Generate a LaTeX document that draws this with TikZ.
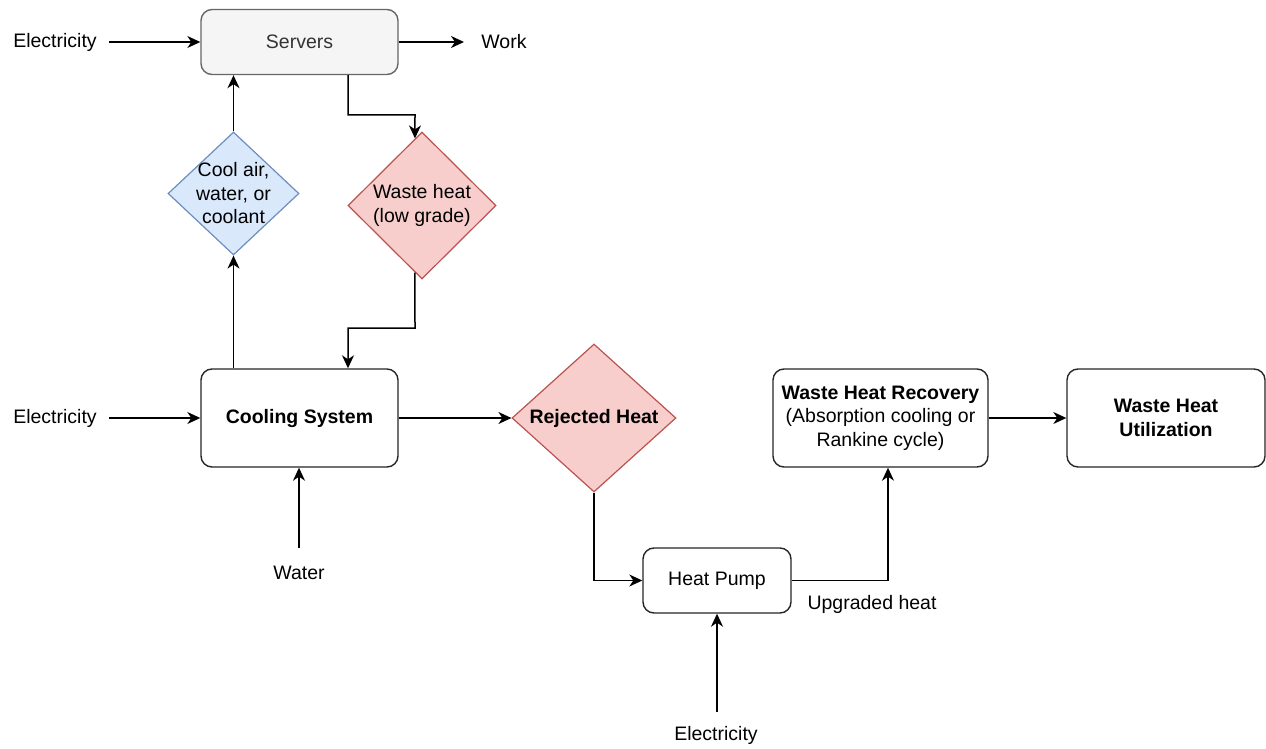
\documentclass[tikz,border=0pt]{standalone}
\usepackage{fontspec}
\setmainfont{Liberation Sans}
\usetikzlibrary{shapes.geometric,arrows.meta}
\definecolor{srvfill}{HTML}{F5F5F5}
\definecolor{srvline}{HTML}{666666}
\definecolor{srvtext}{HTML}{333333}
\definecolor{bluefill}{HTML}{DAE8FC}
\definecolor{blueline}{HTML}{6C8EBF}
\definecolor{redfill}{HTML}{F8CECC}
\definecolor{redline}{HTML}{B85450}
\begin{document}
\begin{tikzpicture}[x=1pt,y=-1pt,
  every node/.style={font=\fontsize{19.5}{23.5}\selectfont},
  box/.style={draw=black!85, line width=1.4pt, rounded corners=11pt, fill=white, align=center, inner sep=0pt},
  dia/.style={diamond, line width=1.2pt, inner sep=0pt},
  lbl/.style={inner xsep=12pt, inner ysep=2pt},
  arr/.style={line width=1.5pt, draw=black, -{Stealth[length=13pt,width=12pt,inset=4pt]}},
  ln/.style={line width=1.5pt, draw=black}]
\useasboundingbox (0,0) rectangle (1266,749);

% boxes
\node[box, draw=srvline, fill=srvfill, text=srvtext, minimum width=197pt, minimum height=65pt] (servers) at (299.5,42) {Servers};
\node[box, minimum width=197pt, minimum height=98pt, font=\fontsize{19.5}{23.5}\selectfont\bfseries] (cooling) at (299.5,418) {Cooling System};
\node[box, minimum width=148pt, minimum height=65pt] (hp) at (717,580.5) {Heat Pump};
\node[box, minimum width=215pt, minimum height=98pt] (whr) at (880.5,418) {\textbf{Waste Heat Recovery}\\(Absorption cooling or\\Rankine cycle)};
\node[box, minimum width=198pt, minimum height=98pt, font=\fontsize{19.5}{23.5}\selectfont\bfseries] (whu) at (1166,418) {Waste Heat\\Utilization};

% diamonds
\node[dia, draw=blueline, fill=bluefill, minimum width=131pt, minimum height=123pt] (cool) at (233.5,193.5) {};
\node[align=center] (cooltxt) at (233.5,193.5) {Cool air,\\water, or\\coolant};
\node[dia, draw=redline, fill=redfill, minimum width=148pt, minimum height=147pt] (waste) at (422,205.5) {};
\node[align=center] (wastetxt) at (422,205.5) {Waste heat\\(low grade)};
\node[dia, draw=redline, fill=redfill, minimum width=164pt, minimum height=148pt] (rej) at (594,418) {};
\node[font=\fontsize{19.5}{23.5}\selectfont\bfseries] (rejtxt) at (594,418) {Rejected Heat};

% labels
\node[lbl] (e1) at (55,42) {Electricity};
\node[lbl] (e2) at (55,418) {Electricity};
\node[lbl] (e3) at (716,735) {Electricity};
\node[lbl] (work) at (504,42) {Work};
\node[lbl] (water) at (299,573) {Water};
\node[lbl] (upg) at (872,604) {Upgraded heat};

% coordinates
\coordinate (c1) at (348,115);
\coordinate (c2) at (415,115);
\coordinate (c3) at (415,328);
\coordinate (c4) at (348,328);
\coordinate (c5) at (888,0);
\coordinate (wt) at (299,548);
\coordinate (et) at (717,712);
\coordinate (wk) at (464,42);

% connectors
\draw[arr] (e1.east |- servers.west) -- (servers.west);
\draw[arr] (servers.east) -- (wk);
\draw[arr] (e2.east |- cooling.west) -- (cooling.west);
\draw[arr] (cooling.north -| cool.south) -- (cool.south);
\draw[arr] (cool.north) -- (servers.south -| cool.north);
\draw[arr] (servers.south -| c1) -- (c1) -- (c2) -- (waste.96);
\draw[arr] (waste.264) -- (c3) -- (c4) -- (cooling.north -| c4);
\draw[arr] (wt) -- (wt |- cooling.south);
\draw[arr] (cooling.east) -- (rej.west);
\draw[arr] (rej.south) |- (hp.west);
\draw[arr] (et) -- (et |- hp.south);
\draw[arr] (hp.east) -| (c5 |- whr.south);
\draw[arr] (whr.east) -- (whu.west);
\end{tikzpicture}
\end{document}
